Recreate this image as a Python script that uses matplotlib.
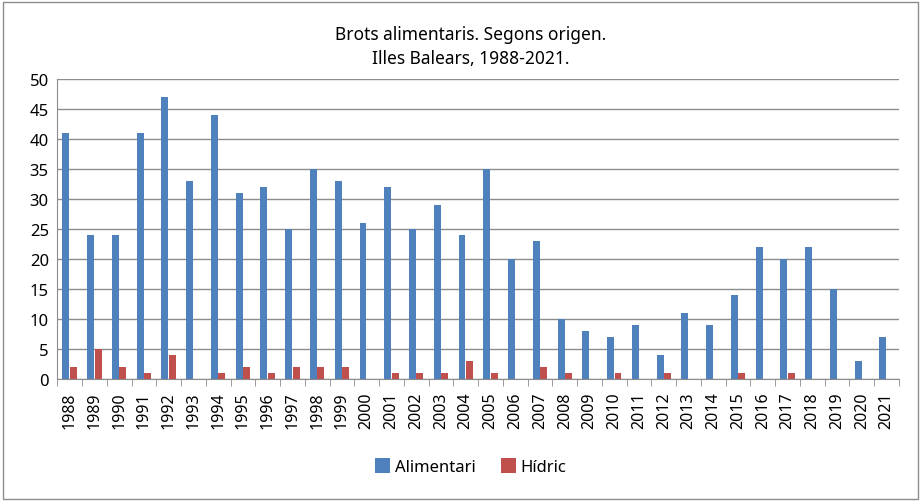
import numpy as np
import matplotlib
matplotlib.use("Agg")
import matplotlib.pyplot as plt
from matplotlib.patches import Rectangle

# =========================
# Data
# =========================
years = list(range(1988, 2022))
alimentari = [41, 24, 24, 41, 47, 33, 44, 31, 32, 25, 35, 33, 26, 32, 25, 29, 24,
              35, 20, 23, 10, 8, 7, 9, 4, 11, 9, 14, 22, 20, 22, 15, 3, 7]
hidric = [2, 5, 2, 1, 4, 0, 1, 2, 1, 2, 2, 2, 0, 1, 1, 1, 3,
          1, 0, 2, 1, 0, 1, 0, 1, 0, 0, 1, 0, 1, 0, 0, 0, 0]

plt.rcParams["font.family"] = ["Noto Sans", "DejaVu Sans"]

fig = plt.figure(figsize=(9.23, 5.02), dpi=100)
ax = fig.add_axes([0.062, 0.243, 0.912, 0.598])

x = np.arange(len(years))
w = 0.28
ax.bar(x - 0.15, alimentari, width=w, color="#4F81BD", label="Alimentari", zorder=3)
ax.bar(x + 0.15, hidric, width=w, color="#C0504D", label="Hídric", zorder=3)

ax.set_xlim(-0.5, len(years) - 0.5)
ax.set_ylim(0, 50)
ax.set_yticks(range(0, 51, 5))
ax.yaxis.grid(True, color="#8c8c8c", linewidth=1.0, zorder=0)
ax.tick_params(axis="y", length=0, labelsize=12, pad=6)

ax.set_xticks(x)
ax.set_xticklabels([str(y) for y in years], rotation=90, fontsize=11.5)
ax.set_xticks(np.arange(-0.5, len(years)), minor=True)
ax.tick_params(axis="x", which="major", length=0, pad=9)
ax.tick_params(axis="x", which="minor", length=5, color="#8c8c8c", direction="out")

for s in ["top", "right"]:
    ax.spines[s].set_visible(False)
ax.spines["left"].set_color("#8c8c8c")
ax.spines["bottom"].set_color("#8c8c8c")

fig.text(0.51, 0.93, "Brots alimentaris. Segons origen.", ha="center", va="center", fontsize=12.5)
fig.text(0.51, 0.883, "Illes Balears, 1988-2021.", ha="center", va="center", fontsize=12.5)

fig.legend(loc="center", bbox_to_anchor=(0.51, 0.068), ncol=2, frameon=False,
           fontsize=12, handlelength=0.9, handleheight=1.0, handletextpad=0.3,
           columnspacing=1.5)

# outer chart border
fig.patches.append(Rectangle((0.003, 0.004), 0.992, 0.99, transform=fig.transFigure,
                             fill=False, edgecolor="#8c8c8c", linewidth=1.0))

fig.savefig("out.png", dpi=100)
